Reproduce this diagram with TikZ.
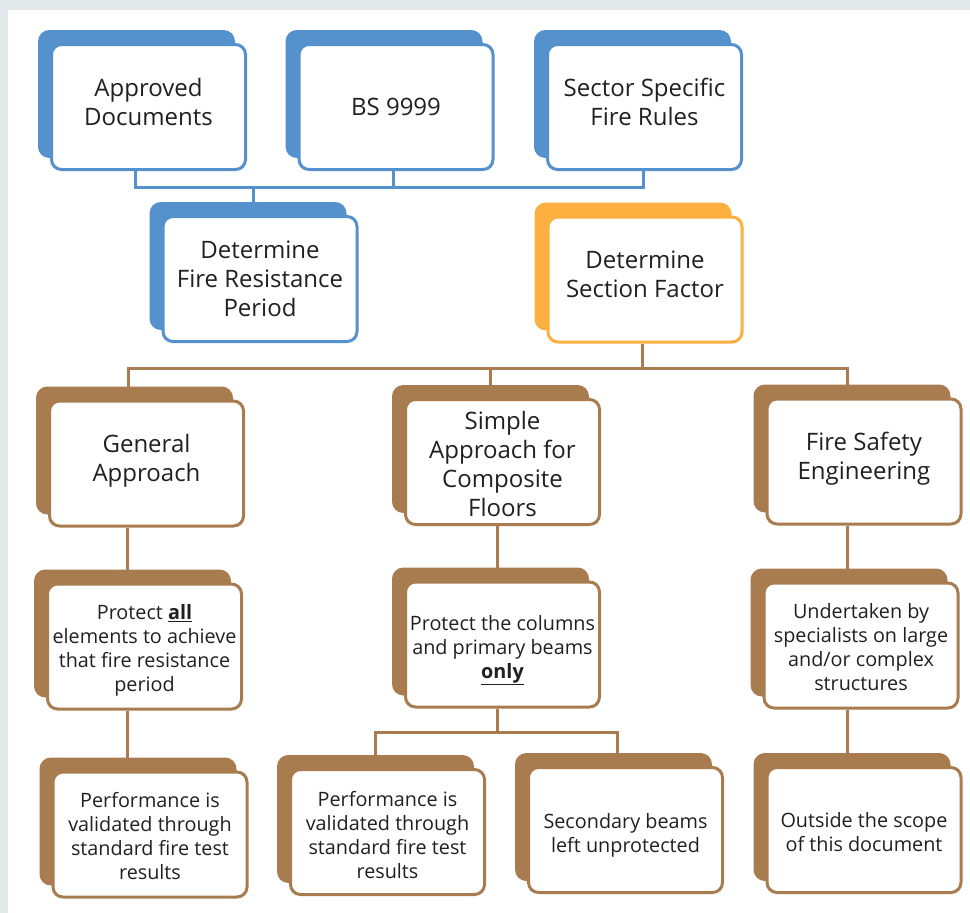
\documentclass[tikz,border=0pt]{standalone}
\usepackage{fontspec}
\setmainfont{Open Sans}
\usetikzlibrary{shadows,backgrounds}
\definecolor{bgc}{HTML}{E3E8EB}
\definecolor{cblue}{HTML}{5591CC}
\definecolor{corange}{HTML}{FBB040}
\definecolor{cbrown}{HTML}{A97C50}
\definecolor{ctext}{HTML}{231F20}
\newcommand\dep[1]{\rule[-#1]{0pt}{#1}}
\newcommand\hgt[1]{\rule{0pt}{#1}}
\begin{document}
\begin{tikzpicture}[x=1pt,y=-1pt,
  card/.style={draw=#1, fill=white, line width=3pt, rounded corners=10pt,
    minimum width=194pt, minimum height=125pt, align=center, text=ctext, inner sep=1pt,
    general shadow={fill=#1, draw=#1, shadow xshift=-12pt, shadow yshift=13pt}},
  big/.style={font=\fontsize{24}{29}\selectfont},
  small/.style={font=\fontsize{19.8}{24}\selectfont},
  conn/.style={draw=#1, line width=3pt}]
\begin{pgfonlayer}{background}
\fill[bgc] (0,0) rectangle (970,913);
\fill[white] (8,10) rectangle (970,913);
\end{pgfonlayer}
\useasboundingbox (0,0) rectangle (970,913);

\node[card=cblue, big] (appr) at (148.5,107) {Approved\\Documents\dep{10pt}};
\node[card=cblue, big] (bs) at (396,107) {BS 9999};
\node[card=cblue, big] (sect) at (644.5,107) {Sector Specific\\Fire Rules\dep{10pt}};
\node[card=cblue, big] (frp) at (260,279) {Determine\\Fire Resistance\\Period};
\node[card=corange, big] (sf) at (645,279.5) {Determine\\Section Factor\dep{10pt}};
\node[card=cbrown, big] (gen) at (146.5,463.5) {General\\Approach\dep{12pt}};
\node[card=cbrown, big] (simple) at (502.5,462) {\hgt{22.5pt}Simple\\Approach for\\Composite\\Floors};
\node[card=cbrown, big] (fse) at (864,461.5) {Fire Safety\\Engineering\dep{10.5pt}};
\node[card=cbrown, small] (pall) at (144.5,646.5) {\hgt{22.5pt}Protect \textbf{\underline{all}}\\elements to achieve\\that fire resistance\\period};
\node[card=cbrown, small] (pcol) at (502.5,644.5) {\hgt{26pt}Protect the columns\\and primary beams\\\textbf{\underline{only}}};
\node[card=cbrown, small] (und) at (861,645.5) {\hgt{18.3pt}Undertaken by\\specialists on large\\and/or complex\\structures};
\node[card=cbrown, small] (perf1) at (150,834.5) {\hgt{18.3pt}Performance is\\validated through\\standard fire test\\results};
\node[card=cbrown, small] (perf2) at (387.5,832) {\hgt{20.3pt}Performance is\\validated through\\standard fire test\\results};
\node[card=cbrown, small] (sec) at (625.5,830) {\hgt{25.3pt}Secondary beams\\left unprotected};
\node[card=cbrown, small] (out) at (864,830) {\hgt{19.3pt}Outside the scope\\of this document};

\coordinate (ba) at (135,187);
\coordinate (bb) at (393,187);
\coordinate (bc) at (643,187);
\coordinate (bd) at (253,187);
\coordinate (ca) at (128,368);
\coordinate (cb) at (490,368);
\coordinate (cc) at (847,368);
\coordinate (cd) at (642,368);
\coordinate (da) at (127,0);
\coordinate (db) at (497,732);
\coordinate (dc) at (375,732);
\coordinate (dd) at (617,732);

\begin{pgfonlayer}{background}
\draw[conn=cblue] (ba |- appr.south) -- (ba) -- (bc) -- (bc |- sect.south);
\draw[conn=cblue] (bb |- bs.south) -- (bb);
\draw[conn=cblue] (bd) -- (bd |- frp.north);
\draw[conn=cbrown] (ca |- gen.north) -- (ca) -- (cc) -- (cc |- fse.north);
\draw[conn=cbrown] (cb) -- (cb |- simple.north);
\draw[conn=cbrown] (cd |- sf.south) -- (cd);
\draw[conn=cbrown] (da |- gen.south) -- (da |- pall.north);
\draw[conn=cbrown] (da |- pall.south) -- (da |- perf1.north);
\draw[conn=cbrown] (db |- simple.south) -- (db |- pcol.north);
\draw[conn=cbrown] (db |- pcol.south) -- (db) -- (dc) -- (dc |- perf2.north);
\draw[conn=cbrown] (db) -- (dd) -- (dd |- sec.north);
\draw[conn=cbrown] (cc |- fse.south) -- (cc |- und.north);
\draw[conn=cbrown] (cc |- und.south) -- (cc |- out.north);
\end{pgfonlayer}
\end{tikzpicture}
\end{document}
